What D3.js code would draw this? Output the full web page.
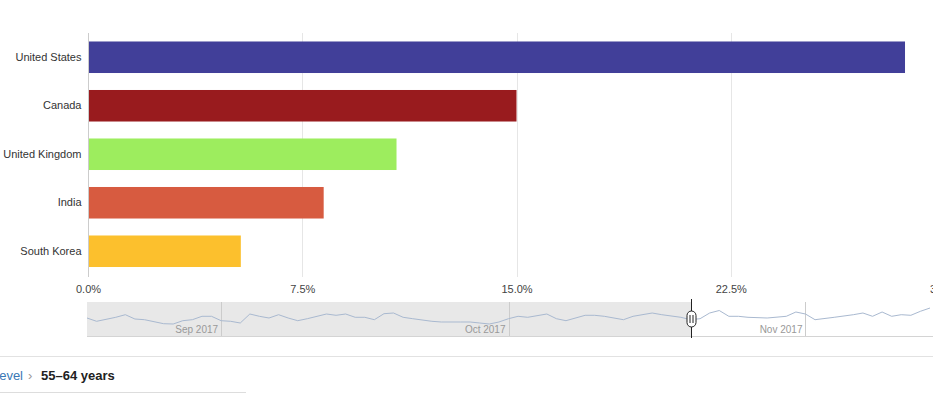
<!DOCTYPE html>
<html>
<head>
<meta charset="utf-8">
<script src="https://cdn.jsdelivr.net/npm/d3@7"></script>
<style>
  html, body { margin: 0; padding: 0; background: #fff; overflow: hidden; }
  svg { display: block; font-family: "Helvetica Neue", Helvetica, Arial, sans-serif; }
</style>
</head>
<body>
<div id="chart"></div>
<script>
// Bar data
const countries = ['United States', 'Canada', 'United Kingdom', 'India', 'South Korea'];
const shares = [28.6, 15.0, 10.8, 8.25, 5.35];
const barColors = ['#413f99', '#991b1e', '#9ded5e', '#d75b40', '#fcc02d'];
const xTicks = [0, 7.5, 15, 22.5, 30];

// Navigator series (visible vertices)
const navDates = [
  '2017-08-18', '2017-08-19', '2017-08-21', '2017-08-22', '2017-08-23', '2017-08-24',
  '2017-08-26', '2017-08-27', '2017-08-28', '2017-08-29', '2017-08-30', '2017-08-31',
  '2017-09-01', '2017-09-02', '2017-09-03', '2017-09-04', '2017-09-05', '2017-09-06',
  '2017-09-07', '2017-09-08', '2017-09-09', '2017-09-10', '2017-09-12', '2017-09-13',
  '2017-09-14', '2017-09-15', '2017-09-16', '2017-09-17', '2017-09-18', '2017-09-19',
  '2017-09-20', '2017-09-21', '2017-09-23', '2017-09-24', '2017-09-26', '2017-09-27',
  '2017-09-28', '2017-09-29', '2017-09-30', '2017-10-01', '2017-10-02', '2017-10-03',
  '2017-10-05', '2017-10-06', '2017-10-07', '2017-10-09', '2017-10-10', '2017-10-11',
  '2017-10-13', '2017-10-14', '2017-10-16', '2017-10-17', '2017-10-19', '2017-10-20',
  '2017-10-21', '2017-10-22', '2017-10-23', '2017-10-24', '2017-10-25', '2017-10-26',
  '2017-10-28', '2017-10-30', '2017-10-31', '2017-11-01', '2017-11-02', '2017-11-04',
  '2017-11-06', '2017-11-07', '2017-11-08', '2017-11-09', '2017-11-10', '2017-11-11',
  '2017-11-12', '2017-11-13', '2017-11-14'
];
const navValues = [
  18, 14.7, 18.7, 21.3, 17, 16.3,
  12.3, 12, 15.3, 16.3, 19.7, 19.7,
  15.3, 14.7, 13, 22, 19.7, 18,
  21.3, 18, 15.3, 17.3, 22, 20.7,
  22, 18.7, 18.7, 16.3, 22.3, 23,
  18.7, 17.3, 14.7, 14, 14, 14,
  13, 12, 14, 17.3, 19.7, 18.7,
  22, 17.3, 15.3, 20.7, 20.7, 19.7,
  16.3, 19.7, 23, 21.3, 18.7, 16.3,
  17.3, 23, 25.5, 19.7, 19.7, 18.7,
  18, 19.7, 24, 22, 16.3, 18.7,
  21.3, 23, 19.7, 24, 19.7, 21.3,
  20.7, 24.7, 28
];
const monthTicks = ['2017-09-01', '2017-10-01', '2017-11-01'];
const handleDate = '2017-10-20';

const parseDate = d3.timeParse('%Y-%m-%d');
const W = 960, H = 394;

const svg = d3.select('#chart').append('svg')
  .attr('width', W)
  .attr('height', H);

// Scales
const x = d3.scaleLinear().domain([0, 30]).range([88, 945]);
const y = d3.scaleBand().domain(countries).range([33, 275.5])
  .paddingInner(0.35).paddingOuter(0.175);

// Grid lines
svg.append('g')
  .selectAll('line')
  .data(xTicks.slice(1))
  .join('line')
  .attr('x1', d => Math.round(x(d)) + 0.5)
  .attr('x2', d => Math.round(x(d)) + 0.5)
  .attr('y1', 33)
  .attr('y2', 277)
  .attr('stroke', '#e6e6e6');

// X axis labels
const xAxis = d3.axisBottom(x).tickValues(xTicks)
  .tickFormat(d => d3.format('.1f')(d) + '%')
  .tickSize(0).tickPadding(0);
svg.append('g')
  .attr('transform', 'translate(0,285)')
  .call(xAxis)
  .call(g => g.select('.domain').remove())
  .call(g => g.selectAll('text')
    .attr('font-size', 11)
    .attr('fill', '#444')
    .attr('font-family', null));

// Bars
svg.append('g')
  .selectAll('rect')
  .data(countries)
  .join('rect')
  .attr('x', x(0))
  .attr('y', d => y(d))
  .attr('width', (d, i) => x(shares[i]) - x(0))
  .attr('height', y.bandwidth())
  .attr('fill', (d, i) => barColors[i]);

// Y axis
const yAxis = d3.axisLeft(y).tickSize(0).tickPadding(7);
svg.append('g')
  .attr('transform', 'translate(88.5,0)')
  .call(yAxis)
  .call(g => g.select('.domain').attr('stroke', '#ccc').attr('d', 'M0,33V277'))
  .call(g => g.selectAll('text')
    .attr('font-size', 11)
    .attr('fill', '#333')
    .attr('font-family', null));

// Navigator
const navTop = 302, navBottom = 336;
const nx = d3.scaleTime()
  .domain([parseDate('2017-08-18'), parseDate('2017-11-14')])
  .range([87, 930]);
const ny = d3.scaleLinear().domain([0, 34]).range([navBottom, navTop]);
const hx = Math.round(nx(parseDate(handleDate))) + 0.5;

const nav = svg.append('g');

nav.append('rect')
  .attr('x', 87)
  .attr('y', navTop)
  .attr('width', hx - 87)
  .attr('height', navBottom - navTop)
  .attr('fill', '#e8e8e8');

nav.append('line')
  .attr('x1', 87).attr('x2', W)
  .attr('y1', navBottom + 0.5).attr('y2', navBottom + 0.5)
  .attr('stroke', '#d4d4d4');

nav.selectAll('.month-line')
  .data(monthTicks)
  .join('line')
  .attr('class', 'month-line')
  .attr('x1', d => Math.round(nx(parseDate(d))) + 0.5)
  .attr('x2', d => Math.round(nx(parseDate(d))) + 0.5)
  .attr('y1', navTop)
  .attr('y2', navBottom)
  .attr('stroke', '#ccc');

nav.selectAll('.month-label')
  .data(monthTicks)
  .join('text')
  .attr('class', 'month-label')
  .attr('x', d => nx(parseDate(d)) - 3)
  .attr('y', 333)
  .attr('text-anchor', 'end')
  .attr('font-size', 10)
  .attr('fill', '#999')
  .text(d => d3.timeFormat('%b %Y')(parseDate(d)));

const line = d3.line()
  .x((d, i) => nx(parseDate(d)))
  .y((d, i) => ny(navValues[i]));

nav.append('path')
  .datum(navDates)
  .attr('d', line)
  .attr('fill', 'none')
  .attr('stroke', '#a9b9d0')
  .attr('stroke-width', 1);

// Handle
nav.append('line')
  .attr('x1', hx).attr('x2', hx)
  .attr('y1', 299).attr('y2', 338)
  .attr('stroke', '#222');
nav.append('rect')
  .attr('x', hx - 4.5)
  .attr('y', 311)
  .attr('width', 9)
  .attr('height', 16)
  .attr('rx', 4.5)
  .attr('fill', '#fff')
  .attr('stroke', '#222');
[-1.5, 1.5].forEach(o => {
  nav.append('line')
    .attr('x1', hx + o).attr('x2', hx + o)
    .attr('y1', 315).attr('y2', 323)
    .attr('stroke', '#222');
});

// Breadcrumb
svg.append('line')
  .attr('x1', 0).attr('x2', W)
  .attr('y1', 356.5).attr('y2', 356.5)
  .attr('stroke', '#e2e2e2');

const crumb = svg.append('g').attr('font-size', 13);
crumb.append('text')
  .attr('x', 23)
  .attr('y', 380)
  .attr('text-anchor', 'end')
  .attr('fill', '#3a78b5')
  .text('Top level');
crumb.append('text')
  .attr('x', 28)
  .attr('y', 380)
  .attr('fill', '#999')
  .text('›');
crumb.append('text')
  .attr('x', 41)
  .attr('y', 380)
  .attr('font-weight', 'bold')
  .attr('fill', '#222')
  .text('55–64 years');

svg.append('line')
  .attr('x1', 0).attr('x2', 246)
  .attr('y1', 392.5).attr('y2', 392.5)
  .attr('stroke', '#ddd');
</script>
</body>
</html>
